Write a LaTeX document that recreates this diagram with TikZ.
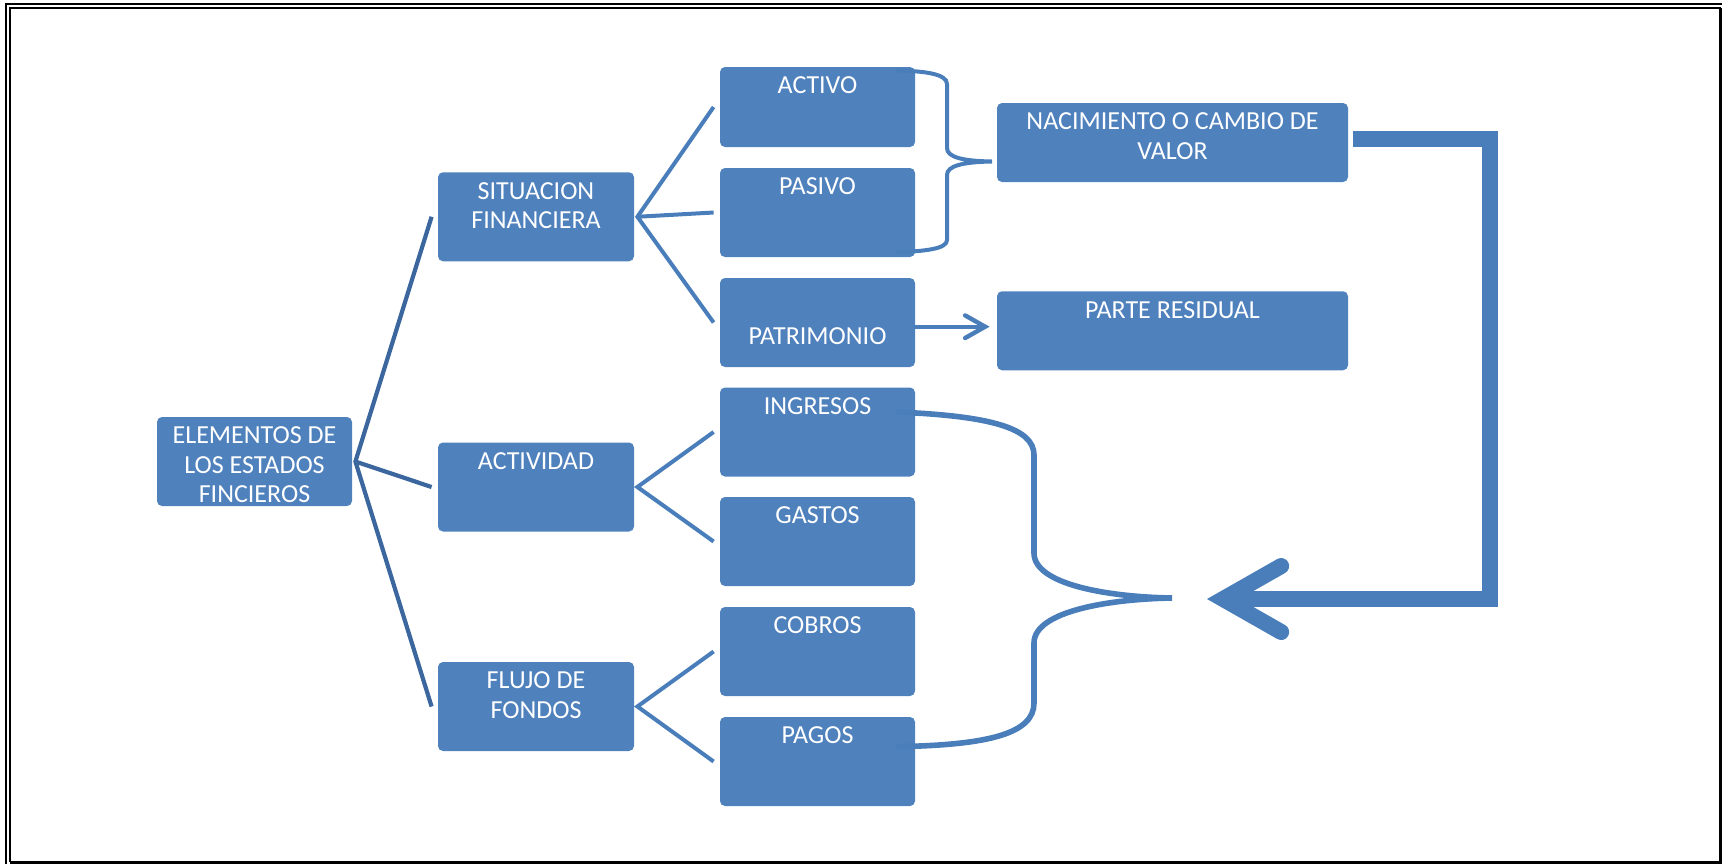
\documentclass[tikz,border=0pt]{standalone}
\usepackage{fontspec}
\setmainfont{Carlito}
\usetikzlibrary{positioning,arrows.meta}

\definecolor{boxblue}{RGB}{79,129,189}
\definecolor{linkblue}{RGB}{74,126,187}
\definecolor{rootblue}{RGB}{60,103,158}

\tikzset{
  blk/.style={fill=boxblue, rounded corners=2.5pt, inner sep=0pt,
    minimum width=97.5pt, minimum height=44.5pt},
  wideblk/.style={blk, minimum width=175.5pt, minimum height=39.5pt},
  txt/.style={text=white, font=\fontsize{13}{14.6}\selectfont, align=center, inner sep=0pt},
  rootfan/.style={draw=rootblue, line width=2.1pt},
  fan/.style={draw=linkblue, line width=2pt},
  brace/.style={draw=linkblue, line width=2pt, line cap=round},
  bigbrace/.style={draw=linkblue, line width=2.8pt, line cap=round},
  patarrow/.style={draw=linkblue, line width=2.2pt, line cap=round,
    -{Straight Barb[length=10pt, width=11.3pt, line cap=round, line join=miter]}},
  bigarrow/.style={draw=linkblue, line width=8pt,
    -{Straight Barb[length=29pt, width=33pt, line cap=round, line join=miter]}}
}

\begin{document}
\begin{tikzpicture}[x=0.5pt, y=-0.5pt]
\useasboundingbox (0,0) rectangle (1722,864);

% page border
\draw[line width=1pt] (5,4) -- (1722,4);
\draw[line width=1pt] (6,4) -- (6,864);
\draw[line width=1pt] (10,862) -- (10,8) -- (1720.5,8);
\draw[line width=1.5pt] (10,862) -- (1720.5,862) -- (1720.5,8);

% boxes
\node[blk] (elem) at (254.5,461.5) {};
\node[blk, minimum width=98pt] (sit) at (536,216.75) {};
\node[blk, minimum width=98pt] (act) at (536,487) {};
\node[blk, minimum width=98pt] (flujo) at (536,706.5) {};

\node[blk, minimum height=40pt] (activo) at (817.5,107) {};
\node[blk] (pasivo) at (817.5,212.5) {};
\node[blk] (patri) at (817.5,322.5) {};
\node[blk] (ingr) at (817.5,432) {};
\node[blk] (gastos) at (817.5,541.5) {};
\node[blk] (cobros) at (817.5,651.5) {};
\node[blk] (pagos) at (817.5,761.5) {};

\node[wideblk] (nac) at (1172.5,142.5) {};
\node[wideblk] (resid) at (1172.5,330.75) {};

% texts
\node[txt, below=5pt of elem.north] (elem-t) {ELEMENTOS DE\\LOS ESTADOS\\FINCIEROS};
\node[txt, below=5pt of sit.north] (sit-t) {SITUACION\\FINANCIERA};
\node[txt, below=5pt of act.north] (act-t) {ACTIVIDAD};
\node[txt, below=5pt of flujo.north] (flujo-t) {FLUJO DE\\FONDOS};
\node[txt, below=5pt of activo.north] (activo-t) {ACTIVO};
\node[txt, below=5pt of pasivo.north] (pasivo-t) {PASIVO};
\node[txt, below=25pt of patri.north] (patri-t) {PATRIMONIO};
\node[txt, below=5pt of ingr.north] (ingr-t) {INGRESOS};
\node[txt, below=5pt of gastos.north] (gastos-t) {GASTOS};
\node[txt, below=5pt of cobros.north] (cobros-t) {COBROS};
\node[txt, below=5pt of pagos.north] (pagos-t) {PAGOS};
\node[txt, below=5pt of nac.north] (nac-t) {NACIMIENTO O CAMBIO DE\\VALOR};
\node[txt, below=5pt of resid.north] (resid-t) {PARTE RESIDUAL};

% fans
\draw[rootfan] ([xshift=-3pt]sit.west) -- ([xshift=1.5pt]elem.east) -- ([xshift=-3pt]flujo.west);
\draw[rootfan] ([xshift=1.5pt]elem.east) -- ([xshift=-3pt]act.west);
\draw[fan] ([xshift=-3pt]activo.west) -- ([xshift=1.5pt]sit.east) -- ([xshift=-3pt]patri.west);
\draw[fan] ([xshift=1.5pt]sit.east) -- ([xshift=-3pt]pasivo.west);
\foreach \p/\a/\b in {act/ingr/gastos, flujo/cobros/pagos}
  \draw[fan] ([xshift=-3pt]\a.west) -- ([xshift=1.5pt]\p.east) -- ([xshift=-3pt]\b.west);

% brace activo/pasivo
\draw[brace] ([shift={(-18,4)}]activo.north east) .. controls (925,71) and (947,74) .. (947,84)
  -- (947,148) .. controls (947,157) and (962,161) .. (992,161.5)
  .. controls (962,162) and (947,166) .. (947,175)
  -- (947,240) .. controls (947,249) and (925,251) .. ([shift={(-18,-5)}]pasivo.south east);

% brace ingresos/pagos
\draw[bigbrace] ([shift={(-17,25)}]ingr.north east) .. controls (990,416) and (1034,428) .. (1034,455)
  -- (1034,553) .. controls (1034,585) and (1110,597) .. (1172,598)
  .. controls (1110,599) and (1034,611) .. (1034,643)
  -- (1034,703) .. controls (1034,733) and (990,745) .. ([shift={(-17,30)}]pagos.north east);

% arrows
\coordinate (pa) at ([shift={(0,4.2)}]patri.east);
\draw[patarrow, shorten >=3.5pt] (pa) -- (pa -| resid.west);

\coordinate (bigtip) at (1207,599);
\coordinate (bigturn) at (1490,599);
\draw[bigarrow] ([shift={(5,-3.5)}]nac.east) -| (bigturn) -- (bigtip);
\end{tikzpicture}
\end{document}
